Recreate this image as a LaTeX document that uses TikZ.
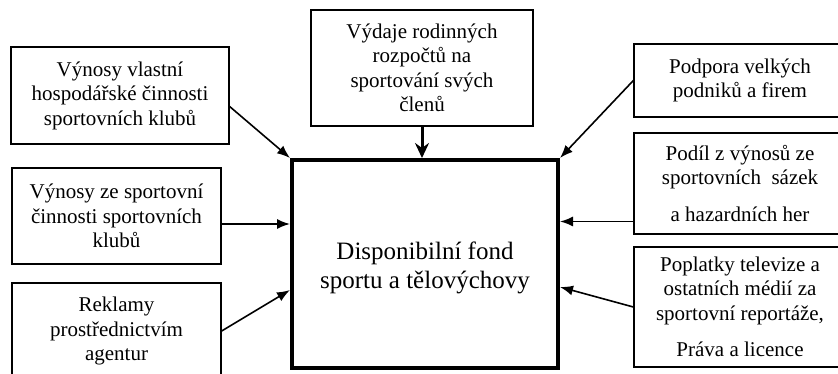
\documentclass[tikz,border=0pt]{standalone}
\usepackage{fontspec}
\setmainfont{Liberation Serif}
\usetikzlibrary{arrows.meta,calc}
\begin{document}
\begin{tikzpicture}[x=1pt,y=-1pt,
  box/.style={draw, line width=1.3pt, inner sep=0pt, align=center,
    font=\fontsize{21pt}{24.5pt}\selectfont},
  mainbox/.style={draw, line width=4pt, inner sep=0pt, align=center,
    font=\fontsize{25pt}{29pt}\selectfont},
  arr/.style={line width=1.6pt, -{Latex[length=13pt,width=10pt]}},
  thickarr/.style={line width=3pt, -{Stealth[length=15pt,width=14pt,inset=5pt]}}
]
\useasboundingbox (0,0) rectangle (838,374);
\clip (0,0) rectangle (838,374);

\node[mainbox, minimum width=266pt, minimum height=208pt] (c) at (425,264) {};
\node[font=\fontsize{25pt}{29pt}\selectfont, align=center, inner sep=0pt] (ct) at (425,268)
  {Disponibilní fond\\sportu a tělovýchovy};

\node[box, minimum width=218pt, minimum height=97pt] (l1) at (120,95.5)
  {Výnosy vlastní\\hospodářské činnosti\\sportovních klubů};
\node[box, minimum width=209pt, minimum height=96pt] (l2) at (116.5,216)
  {Výnosy ze sportovní\\činnosti sportovních\\klubů};
\node[box, minimum width=209pt, minimum height=96pt] (l3) at (116.5,331)
  {Reklamy\\prostřednictvím\\agentur};

\node[box, minimum width=222pt, minimum height=116pt] (t) at (422,68)
  {Výdaje rodinných\\rozpočtů na\\sportování svých\\členů};

\node[box, minimum width=212pt, minimum height=73pt] (r1) at (740,80.5)
  {Podpora velkých\\podniků a firem};
\node[box, minimum width=212pt, minimum height=101pt] (r2) at (740,183.5)
  {Podíl z výnosů ze\\sportovních\ \ sázek\\[12pt]a hazardních her};
\node[box, minimum width=212pt, minimum height=120pt] (r3) at (740,307)
  {Poplatky televize a\\ostatních médií za\\sportovní reportáže,\\[12pt]Práva a licence};

\draw[arr] ([yshift=-11pt]l1.east) -- (c.north west);
\draw[arr] ([yshift=-8pt]l2.east) -- ([yshift=-8pt]l2.east -| c.west);
\draw[arr] (l3.east) -- ([yshift=-26pt]c.west);
\draw[thickarr] (t.south) -- (t.south |- c.north);
\draw[arr] (r1.west) -- (c.north east);
\draw[arr] ([yshift=-38pt]r2.west) -- ([yshift=-38pt]r2.west -| c.east);
\draw[arr] (r3.west) -- ([yshift=-23pt]c.east);
\end{tikzpicture}
\end{document}
